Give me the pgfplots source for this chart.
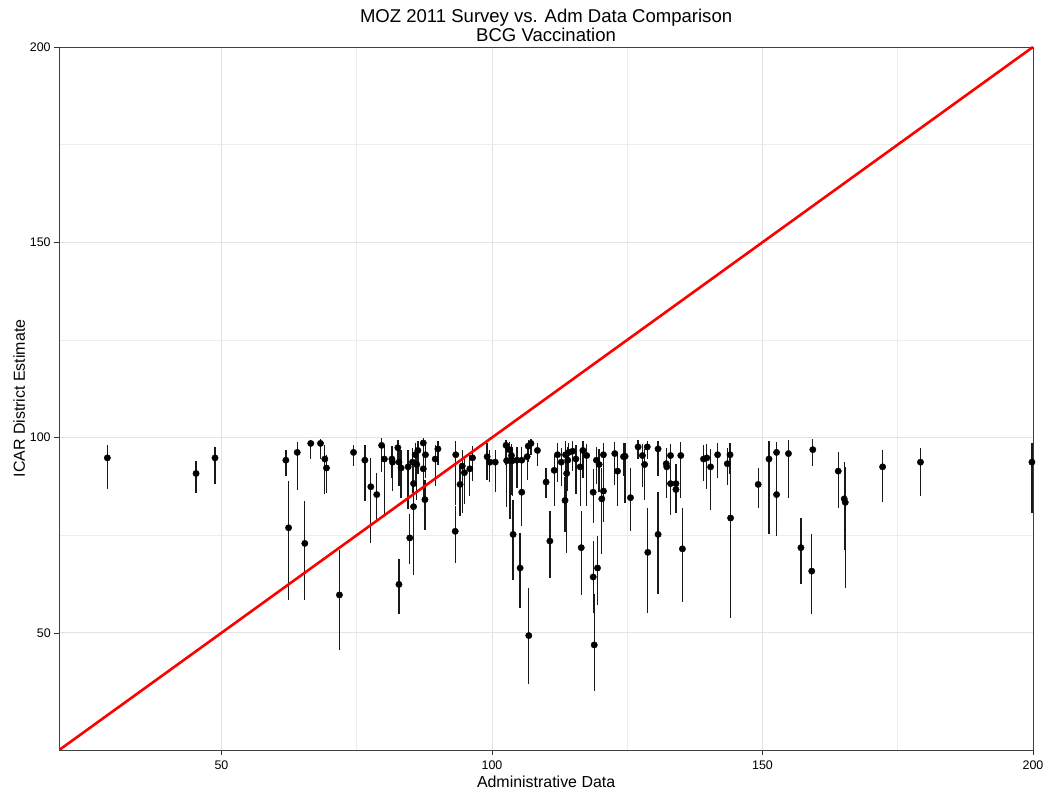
\documentclass[border=0pt]{standalone}
\usepackage{fontspec}
\setmainfont{Liberation Sans}
\usepackage{pgfplots}
\usepackage{pgfplotstable}
\pgfplotsset{compat=1.18}
\pgfplotstableread{
x y ep em
28.9 94.8 3.2 7.9
45.3 90.8 3.1 5.0
48.8 94.8 2.8 6.7
61.9 94.2 2.7 4.1
62.4 76.9 12.1 18.4
64.0 96.2 2.6 9.7
65.4 72.9 10.8 14.6
66.5 98.5 0.5 3.9
68.3 98.5 1.2 3.9
69.1 94.5 3.7 8.9
69.4 92.2 3.4 6.3
71.8 59.7 11.6 14.0
74.4 96.2 1.8 3.4
76.5 94.2 4.0 10.5
77.6 87.4 7.4 14.5
78.7 85.4 5.6 6.8
79.6 98.0 1.9 6.9
80.1 94.5 3.3 14.2
81.5 94.5 3.3 4.8
81.6 93.7 3.5 7.4
82.6 97.4 2.0 3.5
82.8 93.7 3.0 6.0
83.2 92.2 4.7 7.6
82.8 62.4 6.5 7.5
84.5 92.5 4.4 10.9
84.8 74.3 6.0 6.6
85.3 93.7 3.5 8.0
85.5 88.2 5.0 8.0
85.5 82.3 6.5 17.4
85.8 95.6 3.0 7.0
86.1 93.1 4.0 9.0
86.3 96.7 2.5 6.0
87.3 98.6 1.2 6.0
87.3 92.0 4.0 8.0
87.7 95.6 3.0 6.0
87.6 84.1 5.1 7.8
89.5 94.5 3.5 7.0
90.0 97.1 2.0 4.0
93.2 76.0 6.4 8.1
93.3 95.6 3.4 12.8
94.1 88.0 5.0 8.0
94.5 92.7 4.0 12.0
94.9 91.0 4.0 8.0
95.9 92.0 4.0 7.0
96.4 94.8 3.0 6.0
99.1 95.1 3.5 5.9
99.6 93.7 3.0 5.0
100.6 93.7 3.0 7.7
102.6 98.0 1.5 5.0
102.7 94.1 3.5 12.0
103.2 96.9 2.0 8.0
103.3 94.1 3.5 15.0
103.6 95.4 3.0 10.0
103.8 94.1 3.5 9.0
104.6 94.2 3.5 7.0
105.5 94.2 3.5 6.0
106.5 95.1 3.0 6.0
106.7 97.8 1.5 4.0
107.2 98.5 1.2 3.0
108.4 96.7 2.0 4.0
105.5 86.0 5.4 8.7
103.9 75.2 8.9 11.6
105.2 66.6 9.0 10.2
106.8 49.3 12.2 12.3
110.0 88.6 3.6 4.0
110.7 73.5 7.6 9.4
111.5 91.6 4.0 9.0
112.1 95.6 3.0 7.0
112.8 93.7 3.5 6.0
113.6 95.6 3.5 10.0
113.8 90.8 6.0 20.3
113.5 83.9 6.0 8.0
114.0 94.2 3.5 8.0
114.2 96.2 2.5 5.0
114.9 96.5 2.5 5.0
115.5 94.5 3.5 9.0
116.3 92.5 4.5 10.0
116.5 71.8 9.3 12.0
116.8 96.7 2.5 7.0
117.5 95.4 3.0 13.0
118.7 86.0 6.0 8.0
118.7 64.3 9.2 9.3
118.9 46.9 13.0 11.9
119.5 66.6 8.3 9.6
119.3 94.2 3.5 6.0
119.8 93.1 4.0 7.0
120.3 84.3 8.0 14.0
120.6 86.3 6.0 8.0
120.6 95.6 3.0 6.0
122.7 95.9 3.0 8.0
123.2 91.4 4.5 9.0
124.3 95.1 3.5 5.0
124.6 95.2 3.5 12.0
125.6 84.6 7.5 8.4
127.0 97.6 1.8 3.0
127.8 95.4 3.0 8.0
128.2 93.1 4.0 9.0
128.7 97.6 1.5 3.0
128.8 70.6 11.4 15.5
130.7 97.1 2.0 7.0
130.7 75.2 10.8 15.3
132.2 93.3 4.0 7.0
132.3 92.5 4.0 8.0
133.0 95.4 3.0 5.0
133.0 88.2 5.0 8.0
134.0 88.2 5.0 4.0
134.0 86.7 5.0 6.0
134.9 95.4 3.5 11.0
135.2 71.5 10.5 13.7
139.1 94.5 3.5 5.5
139.7 94.8 3.5 8.0
140.4 92.5 4.5 11.0
141.7 95.6 3.0 6.0
143.5 93.3 4.0 5.5
144.0 95.6 3.0 5.0
144.1 79.4 13.3 25.6
149.2 88.0 4.2 6.0
151.2 94.5 4.6 19.3
152.6 96.2 2.6 6.0
152.6 85.4 13.4 10.7
154.8 95.9 3.5 11.3
157.1 71.8 7.6 9.2
159.1 65.8 9.4 11.1
159.3 96.9 2.7 4.2
164.0 91.4 4.8 9.4
165.1 84.3 9.4 13.0
165.3 83.4 9.0 21.9
172.2 92.5 4.4 9.0
179.2 93.7 3.7 8.7
199.8 93.7 4.8 13.0
}\datatable
\begin{document}
\begin{tikzpicture}
\useasboundingbox (-59.2bp,-41bp) rectangle (988.8bp,750bp);
\begin{axis}[
  at={(0,0)}, anchor=south west,
  scale only axis, width=973.8bp, height=703bp,
  xmin=20, xmax=200, ymin=20, ymax=200,
  xtick={50,100,150,200}, ytick={50,100,150,200},
  minor tick num=1, minor tick length=0pt,
  major tick length=5bp, tick align=outside,
  tick style={black!80, line width=0.6bp},
  xtick pos=bottom, ytick pos=left,
  grid=both,
  major grid style={gray!22, line width=0.7bp},
  minor grid style={gray!14, line width=0.7bp},
  axis line style={black!75, line width=0.7bp},
  /pgf/number format/assume math mode=true,
  ticklabel style={font=\fontsize{12.5}{12.5}\selectfont},
  xticklabel style={yshift=-2bp},
  xlabel={Administrative Data},
  ylabel={ICAR District Estimate},
  label style={font=\fontsize{16}{16}\selectfont},
  xlabel style={yshift=0bp},
  ylabel style={yshift=-2bp},
  title={MOZ 2011 Survey vs. Adm Data Comparison\\BCG Vaccination},
  title style={font=\fontsize{18.6}{19}\selectfont, align=center, yshift=-4bp},
  clip=true,
]
\addplot[only marks, mark=*, mark size=3.2bp, black, mark options={fill=black},
  error bars/.cd, y dir=both, y explicit, error mark=none,
  error bar style={black!90, line width=1.3bp}]
  table[x=x, y=y, y error plus=ep, y error minus=em] {\datatable};
\addplot[red, line width=2.6bp] coordinates {(20,20) (200,200)};
\end{axis}
\end{tikzpicture}
\end{document}
